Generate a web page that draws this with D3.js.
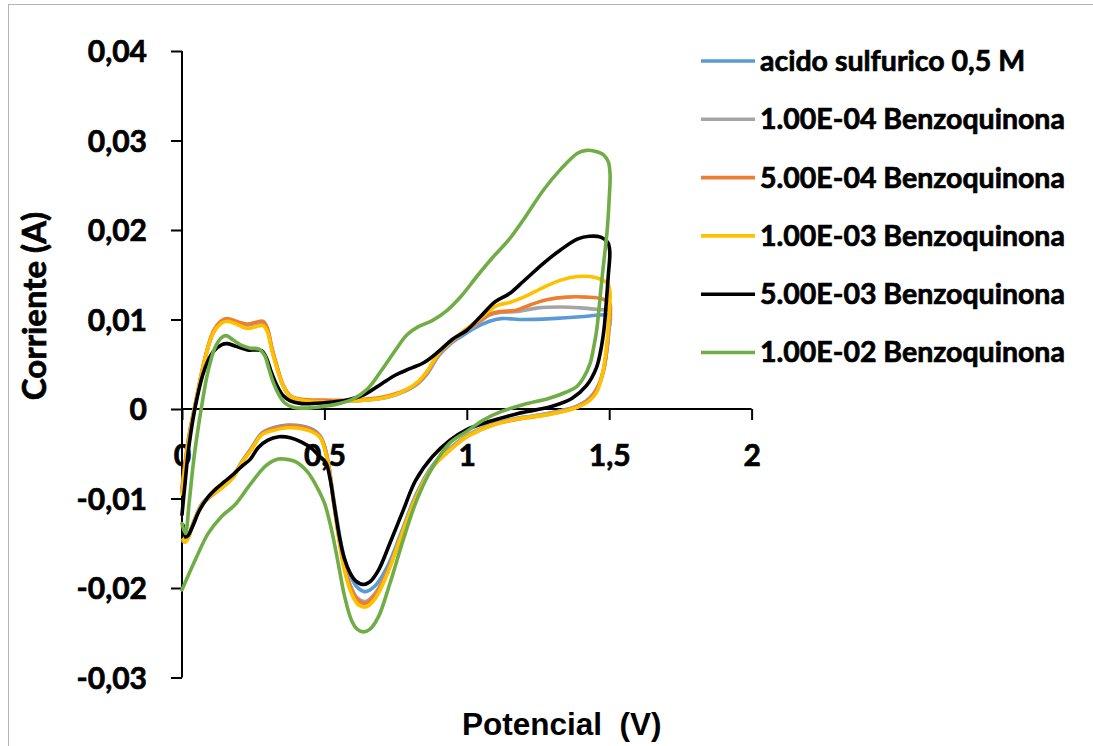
<!DOCTYPE html>
<html>
<head>
<meta charset="utf-8">
<script src="https://cdn.jsdelivr.net/npm/d3@7"></script>
<style>
  html, body { margin: 0; padding: 0; background: #fff; }
  svg { display: block; }
</style>
</head>
<body>
<svg id="chart" width="1093" height="746"></svg>
<script>
// Cyclic voltammograms: potential (V) vs current (A), one closed sweep per solution.
const xTicks = [0, 0.5, 1, 1.5, 2];
const yTicks = [-0.03, -0.02, -0.01, 0, 0.01, 0.02, 0.03, 0.04];

const seriesNames = [
  "acido sulfurico 0,5 M",
  "1.00E-04 Benzoquinona",
  "5.00E-04 Benzoquinona",
  "1.00E-03 Benzoquinona",
  "5.00E-03 Benzoquinona",
  "1.00E-02 Benzoquinona"
];
const seriesColors = ["#5B9BD5", "#A5A5A5", "#ED7D31", "#FFC000", "#000000", "#70AD47"];

// [potential, current] pairs, anodic sweep followed by cathodic sweep
const acidoSulfurico = [
  [0.0,-0.0092],[0.01,-0.0065],[0.025,-0.003],[0.05,0.001],[0.08,0.0055],[0.11,0.0086],[0.14,0.0098],[0.16,0.0100],
  [0.19,0.0097],[0.23,0.0094],[0.26,0.0096],[0.285,0.0097],[0.30,0.0089],[0.315,0.0068],[0.335,0.0045],[0.355,0.0026],
  [0.38,0.0014],[0.42,0.0010],[0.5,0.0009],[0.6,0.0009],[0.65,0.0010],[0.7,0.0012],[0.75,0.0016],[0.79,0.0021],
  [0.83,0.0029],[0.86,0.0039],[0.9,0.0059],[0.94,0.0072],[0.98,0.0081],[1.03,0.0091],[1.08,0.0098],[1.12,0.0101],
  [1.2,0.0100],[1.3,0.0101],[1.4,0.0103],[1.47,0.0105],[1.502,0.0104],
  [1.499,0.0088],[1.492,0.0066],[1.482,0.0046],[1.466,0.0029],[1.445,0.0017],[1.42,0.0009],[1.385,0.0003],[1.33,-0.0002],
  [1.25,-0.0007],[1.17,-0.0011],[1.1,-0.0016],[1.05,-0.0022],[1.0,-0.0030],[0.94,-0.0044],[0.88,-0.0063],[0.82,-0.0097],
  [0.77,-0.0138],[0.72,-0.0177],[0.68,-0.0197],[0.645,-0.0204],[0.615,-0.0199],[0.59,-0.0185],[0.565,-0.0160],[0.545,-0.0125],
  [0.53,-0.0095],[0.515,-0.0062],[0.5,-0.0041],[0.485,-0.0030],[0.46,-0.0023],[0.42,-0.0019],[0.37,-0.0018],[0.32,-0.0021],
  [0.28,-0.0027],[0.245,-0.0043],[0.21,-0.0059],[0.18,-0.0075],[0.14,-0.0087],[0.1,-0.0097],[0.07,-0.0106],[0.04,-0.0127],
  [0.02,-0.0144],[0.01,-0.0148],[0.004,-0.0148]
];

const benzoquinona1e4 = [
  [0.0,-0.0090],[0.01,-0.0064],[0.025,-0.003],[0.05,0.001],[0.08,0.0055],[0.11,0.0085],[0.14,0.0097],[0.16,0.0099],
  [0.19,0.0097],[0.23,0.0094],[0.26,0.0096],[0.285,0.0097],[0.30,0.0089],[0.315,0.0068],[0.335,0.0045],[0.355,0.0026],
  [0.38,0.0014],[0.42,0.0010],[0.5,0.0009],[0.6,0.0009],[0.65,0.0010],[0.7,0.0012],[0.75,0.0016],[0.79,0.0021],
  [0.83,0.0029],[0.86,0.0040],[0.9,0.0060],[0.94,0.0073],[0.98,0.0083],[1.03,0.0094],[1.08,0.0105],[1.12,0.0108],
  [1.18,0.0109],[1.25,0.0113],[1.33,0.0114],[1.4,0.0113],[1.47,0.0111],[1.502,0.0110],
  [1.499,0.0090],[1.492,0.0067],[1.482,0.0047],[1.466,0.0029],[1.445,0.0017],[1.42,0.0009],[1.385,0.0003],[1.33,-0.0002],
  [1.25,-0.0007],[1.17,-0.0011],[1.1,-0.0016],[1.05,-0.0022],[1.0,-0.0030],[0.94,-0.0045],[0.88,-0.0064],[0.82,-0.0099],
  [0.77,-0.0141],[0.72,-0.0182],[0.68,-0.0205],[0.645,-0.0215],[0.615,-0.0211],[0.59,-0.0196],[0.565,-0.0168],[0.545,-0.0130],
  [0.53,-0.0098],[0.515,-0.0063],[0.5,-0.0042],[0.485,-0.0031],[0.46,-0.0024],[0.42,-0.0020],[0.37,-0.0019],[0.32,-0.0022],
  [0.28,-0.0028],[0.245,-0.0044],[0.21,-0.0059],[0.18,-0.0075],[0.14,-0.0087],[0.1,-0.0097],[0.07,-0.0106],[0.04,-0.0127],
  [0.02,-0.0144],[0.01,-0.0147],[0.004,-0.0146]
];

const benzoquinona5e4 = [
  [0.0,-0.0088],[0.01,-0.0062],[0.025,-0.0029],[0.05,0.0011],[0.08,0.0056],[0.11,0.0087],[0.14,0.0099],[0.16,0.0101],
  [0.19,0.0098],[0.23,0.0095],[0.26,0.0097],[0.285,0.0098],[0.30,0.0090],[0.315,0.0069],[0.335,0.0046],[0.355,0.0027],
  [0.38,0.0015],[0.42,0.0011],[0.5,0.0010],[0.6,0.0010],[0.65,0.0011],[0.7,0.0013],[0.75,0.0017],[0.79,0.0022],
  [0.83,0.0030],[0.86,0.0041],[0.9,0.0061],[0.94,0.0074],[0.98,0.0084],[1.03,0.0095],[1.08,0.0106],[1.12,0.0109],
  [1.17,0.0110],[1.22,0.0116],[1.28,0.0122],[1.35,0.0125],[1.42,0.0125],[1.475,0.0123],[1.502,0.0118],
  [1.499,0.0095],[1.492,0.0068],[1.482,0.0046],[1.466,0.0028],[1.445,0.0016],[1.42,0.0008],[1.385,0.0002],[1.33,-0.0003],
  [1.25,-0.0008],[1.17,-0.0012],[1.1,-0.0017],[1.05,-0.0023],[1.0,-0.0031],[0.94,-0.0046],[0.88,-0.0065],[0.82,-0.0100],
  [0.77,-0.0142],[0.72,-0.0183],[0.68,-0.0207],[0.645,-0.0217],[0.615,-0.0213],[0.59,-0.0198],[0.565,-0.0170],[0.545,-0.0132],
  [0.53,-0.0099],[0.515,-0.0064],[0.5,-0.0042],[0.485,-0.0031],[0.46,-0.0024],[0.42,-0.0020],[0.37,-0.0019],[0.32,-0.0022],
  [0.28,-0.0028],[0.245,-0.0044],[0.21,-0.0060],[0.18,-0.0076],[0.14,-0.0088],[0.1,-0.0098],[0.07,-0.0107],[0.04,-0.0128],
  [0.02,-0.0145],[0.01,-0.0148],[0.004,-0.0147]
];

const benzoquinona1e3 = [
  [0.0,-0.0095],[0.01,-0.0068],[0.025,-0.0033],[0.05,0.0010],[0.08,0.0055],[0.11,0.0085],[0.14,0.0096],[0.16,0.0098],
  [0.19,0.0095],[0.23,0.0090],[0.26,0.0092],[0.285,0.0093],[0.30,0.0086],[0.315,0.0066],[0.335,0.0044],[0.355,0.0026],
  [0.38,0.0014],[0.42,0.0010],[0.5,0.0008],[0.6,0.0009],[0.65,0.0010],[0.7,0.0012],[0.75,0.0016],[0.79,0.0022],
  [0.83,0.0031],[0.86,0.0042],[0.9,0.0062],[0.94,0.0074],[0.98,0.0085],[1.03,0.0097],[1.08,0.0110],[1.11,0.0116],
  [1.15,0.0119],[1.2,0.0125],[1.27,0.0136],[1.33,0.0144],[1.39,0.0148],[1.43,0.0148],[1.47,0.0145],[1.495,0.0140],[1.503,0.0130],
  [1.500,0.0108],[1.495,0.0084],[1.487,0.0060],[1.475,0.0037],[1.455,0.0018],[1.43,0.0009],[1.39,0.0002],[1.35,-0.0002],
  [1.29,-0.0006],[1.18,-0.0011],[1.1,-0.0017],[1.05,-0.0023],[1.0,-0.0031],[0.94,-0.0046],[0.88,-0.0065],[0.82,-0.0100],
  [0.765,-0.0146],[0.72,-0.0185],[0.68,-0.0211],[0.648,-0.0221],[0.62,-0.0219],[0.595,-0.0206],[0.57,-0.0180],[0.55,-0.0143],
  [0.532,-0.0103],[0.517,-0.0068],[0.5,-0.0044],[0.485,-0.0032],[0.46,-0.0026],[0.42,-0.0022],[0.37,-0.0021],[0.32,-0.0024],
  [0.28,-0.0029],[0.245,-0.0045],[0.21,-0.0060],[0.18,-0.0076],[0.14,-0.0088],[0.1,-0.0097],[0.07,-0.0107],[0.04,-0.0128],
  [0.02,-0.0145],[0.012,-0.0149],[0.005,-0.0146]
];

const benzoquinona5e3 = [
  [0.0,-0.0118],[0.01,-0.0085],[0.025,-0.0040],[0.05,0.0008],[0.08,0.0045],[0.11,0.0064],[0.14,0.0072],[0.16,0.0073],
  [0.19,0.0070],[0.23,0.0066],[0.26,0.0066],[0.28,0.0065],[0.295,0.0058],[0.315,0.0040],[0.335,0.0025],[0.355,0.0015],
  [0.38,0.0009],[0.42,0.0006],[0.5,0.0007],[0.58,0.0010],[0.64,0.0016],[0.7,0.0028],[0.75,0.0038],[0.8,0.0045],
  [0.85,0.0052],[0.9,0.0064],[0.95,0.0078],[1.0,0.0088],[1.05,0.0104],[1.1,0.0120],[1.15,0.0129],[1.2,0.0143],
  [1.27,0.0163],[1.33,0.0178],[1.39,0.0190],[1.43,0.0193],[1.47,0.0192],[1.495,0.0186],[1.502,0.0176],
  [1.497,0.0150],[1.49,0.0120],[1.482,0.0090],[1.47,0.0065],[1.455,0.0046],[1.42,0.0026],[1.37,0.0012],[1.30,0.0003],
  [1.18,-0.0005],[1.1,-0.0012],[1.06,-0.0016],[1.0,-0.0023],[0.94,-0.0035],[0.88,-0.0053],[0.82,-0.0080],[0.777,-0.0113],
  [0.73,-0.0150],[0.69,-0.0180],[0.66,-0.0193],[0.635,-0.0196],[0.61,-0.0192],[0.59,-0.0183],[0.57,-0.0167],[0.553,-0.0143],
  [0.535,-0.0108],[0.52,-0.0078],[0.505,-0.0060],[0.48,-0.0052],[0.455,-0.0044],[0.42,-0.0037],[0.38,-0.0032],[0.34,-0.0031],
  [0.30,-0.0035],[0.268,-0.0043],[0.24,-0.0056],[0.21,-0.0064],[0.18,-0.0073],[0.15,-0.0081],[0.12,-0.0089],[0.09,-0.0099],
  [0.06,-0.0114],[0.04,-0.0129],[0.022,-0.0141],[0.012,-0.0143],[0.004,-0.0130]
];

const benzoquinona1e2 = [
  [0.0,-0.0128],[0.012,-0.0139],[0.025,-0.0105],[0.04,-0.0060],[0.055,-0.0025],[0.07,0.0005],[0.09,0.0040],[0.115,0.0068],
  [0.14,0.0080],[0.155,0.0082],[0.18,0.0077],[0.21,0.0071],[0.24,0.0068],[0.27,0.0067],[0.29,0.0060],[0.305,0.0045],
  [0.32,0.0030],[0.34,0.0016],[0.36,0.0007],[0.39,0.0002],[0.44,0.0001],[0.5,0.0003],[0.55,0.0006],[0.6,0.0011],
  [0.65,0.0022],[0.7,0.0043],[0.75,0.0066],[0.79,0.0083],[0.83,0.0092],[0.88,0.0099],[0.93,0.0110],[0.98,0.0126],
  [1.04,0.0150],[1.09,0.0169],[1.15,0.0190],[1.2,0.0212],[1.27,0.0245],[1.33,0.0268],[1.39,0.0286],[1.42,0.0289],
  [1.45,0.0288],[1.48,0.0284],[1.497,0.0276],[1.503,0.0262],
  [1.5,0.0235],[1.493,0.0200],[1.483,0.0170],[1.474,0.0144],[1.465,0.0115],[1.456,0.0088],[1.445,0.0068],[1.433,0.0051],
  [1.41,0.0035],[1.386,0.0025],[1.35,0.0019],[1.29,0.0012],[1.2,0.0005],[1.12,-0.0003],[1.06,-0.0012],[1.0,-0.0025],
  [0.94,-0.0038],[0.88,-0.0065],[0.824,-0.0102],[0.777,-0.0146],[0.73,-0.0195],[0.69,-0.0232],[0.66,-0.0246],[0.637,-0.0249],
  [0.615,-0.0246],[0.595,-0.0236],[0.57,-0.0208],[0.55,-0.0175],[0.525,-0.0135],[0.50,-0.0105],[0.47,-0.0085],[0.44,-0.0070],
  [0.40,-0.0059],[0.36,-0.0056],[0.338,-0.0056],[0.30,-0.0062],[0.28,-0.0068],[0.233,-0.0087],[0.186,-0.0107],[0.139,-0.0120],
  [0.092,-0.0139],[0.046,-0.0169],[0.0,-0.0202]
];

const seriesData = [acidoSulfurico, benzoquinona1e4, benzoquinona5e4, benzoquinona1e3, benzoquinona5e3, benzoquinona1e2];

const svg = d3.select("#chart");
const tickFont = "Lato, 'Open Sans', sans-serif";

// heavier bold text: fill plus a thin outline in the same colour
const heavy = sel => sel.attr("fill", "#000").attr("stroke", "#000").attr("stroke-width", 0.7)
  .attr("font-family", tickFont).attr("font-weight", 700);

// chart area frame
svg.append("rect")
  .attr("x", 8.5).attr("y", 4.5)
  .attr("width", 1200).attr("height", 1000)
  .attr("fill", "none").attr("stroke", "#b4b4b4").attr("stroke-width", 1);

const x = d3.scaleLinear().domain([0, 2]).range([182, 751.6]);
const y = d3.scaleLinear().domain([-0.03, 0.04]).range([677.5, 51]);

const fmt = d => d === 0 ? "0" : (d < 0 ? "-" : "") + Math.abs(d).toFixed(2).replace(".", ",");
const fmtX = d => String(d).replace(".", ",");

// y axis
const yAxis = svg.append("g")
  .attr("transform", `translate(${x(0)},0)`)
  .call(d3.axisLeft(y).tickValues(yTicks).tickSize(11).tickPadding(24).tickFormat(fmt));
yAxis.select(".domain").attr("stroke", "#000").attr("stroke-width", 2).attr("d", `M0,${y(0.04)}V${y(-0.03)}`);
yAxis.selectAll(".tick line").attr("stroke", "#000").attr("stroke-width", 2);
yAxis.selectAll(".tick text").call(heavy).attr("font-size", 30).attr("dy", "0.36em");

// x axis at zero current
const xAxis = svg.append("g")
  .attr("transform", `translate(0,${y(0)})`)
  .call(d3.axisBottom(x).tickValues(xTicks).tickSize(11).tickFormat(fmtX));
xAxis.select(".domain").attr("stroke", "#000").attr("stroke-width", 2).attr("d", `M${x(0)},0H${x(2)}`);
xAxis.selectAll(".tick line").attr("stroke", "#000").attr("stroke-width", 2);
xAxis.selectAll(".tick text").call(heavy).attr("font-size", 30).attr("y", 46).attr("dy", "0.36em");
svg.selectAll(".tick text").attr("font-family", tickFont);

// voltammogram traces
const line = d3.line().x(d => x(d[0])).y(d => y(d[1])).curve(d3.curveCatmullRom.alpha(0.5));
svg.append("g").selectAll("path")
  .data(seriesData)
  .join("path")
  .attr("d", line)
  .attr("fill", "none")
  .attr("stroke", (d, i) => seriesColors[i])
  .attr("stroke-width", 3.6)
  .attr("stroke-linejoin", "round")
  .attr("stroke-linecap", "round");

// axis titles
svg.append("text")
  .attr("transform", "translate(46,306) rotate(-90)")
  .attr("text-anchor", "middle")
  .call(heavy)
  .attr("font-size", 33)
  .text("Corriente (A)");

svg.append("text")
  .attr("x", 462).attr("y", 735)
  .attr("font-family", "'Liberation Sans', Arial, sans-serif").attr("font-weight", 700).attr("font-size", 31.5)
  .attr("fill", "#000")
  .style("white-space", "pre")
  .text("Potencial  (V)");

// legend
const legend = svg.append("g").selectAll("g")
  .data(seriesNames)
  .join("g")
  .attr("transform", (d, i) => `translate(701,${61 + i * 58.3})`);
legend.append("line")
  .attr("x1", 0).attr("x2", 54).attr("y1", 0).attr("y2", 0)
  .attr("stroke", (d, i) => seriesColors[i]).attr("stroke-width", 3.6);
legend.append("text")
  .attr("x", 59).attr("y", 0).attr("dy", "0.35em")
  .call(heavy)
  .attr("font-size", 28.5)
  .text(d => d);
</script>
</body>
</html>
